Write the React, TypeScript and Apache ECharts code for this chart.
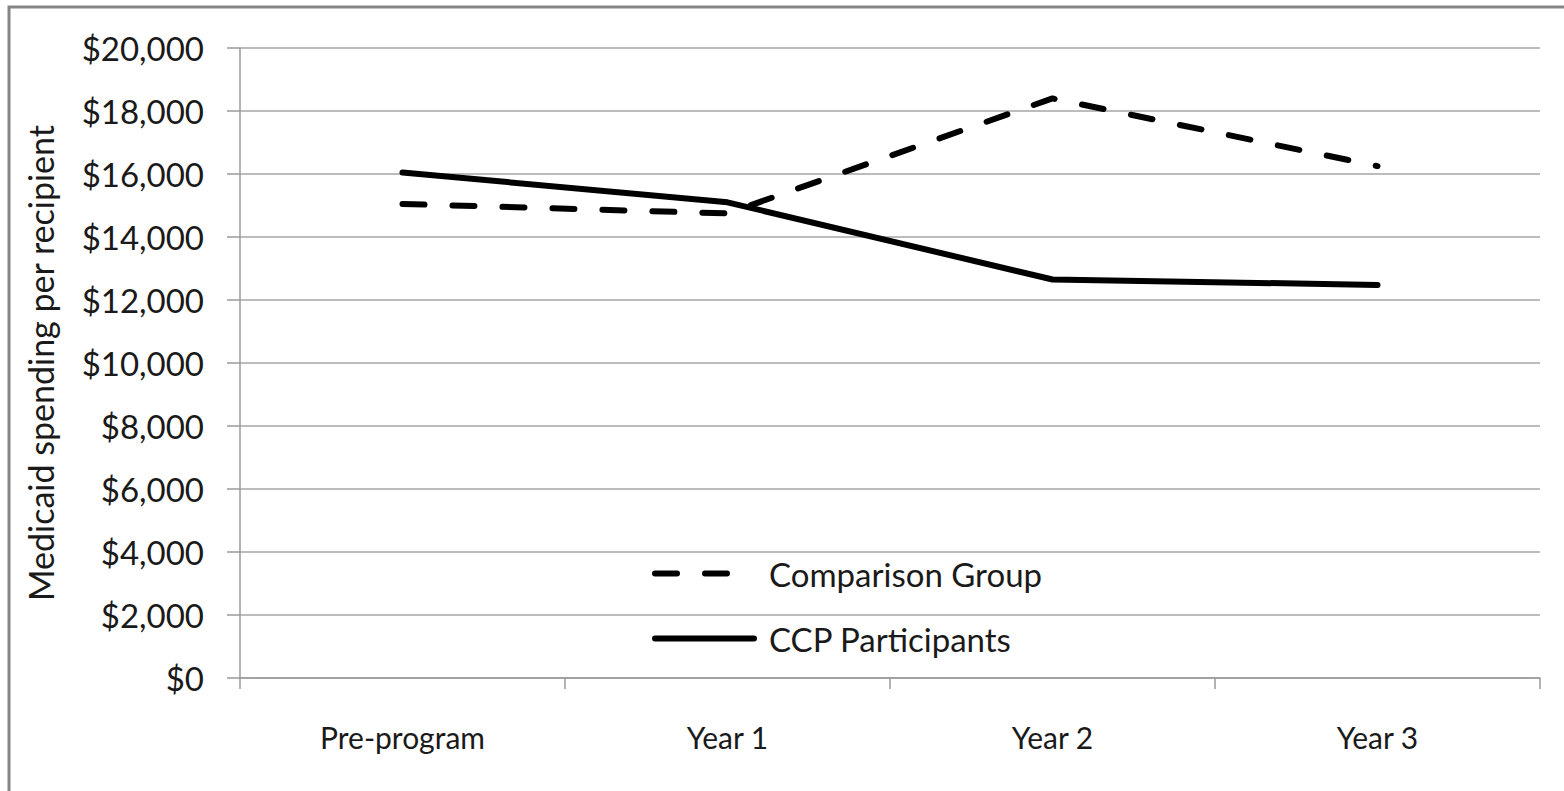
import React, { useEffect, useRef } from "react";
import * as echarts from "echarts";

const categories = ["Pre-program", "Year 1", "Year 2", "Year 3"];
const comparisonGroup = [15050, 14750, 18400, 16250];
const ccpParticipants = [16050, 15100, 12650, 12480];
const seriesNames = ["Comparison Group", "CCP Participants"];
const yAxisTitle = "Medicaid spending per recipient";

const FONT = "Lato, 'Open Sans', sans-serif";
const TEXT = "#1a1a1a";
const DASH = [22, 28];

export default function App() {
  const ref = useRef<HTMLDivElement>(null);
  useEffect(() => {
    document.body.style.margin = "0";
    const chart = echarts.init(ref.current!, null, { renderer: "svg" });
    const legendCommon = {
      left: 647,
      itemWidth: 99,
      itemHeight: 20,
      itemStyle: { opacity: 0 },
      textStyle: { fontSize: 33, color: TEXT, fontFamily: FONT, padding: [0, 0, 0, 10] },
    };
    chart.setOption({
      animation: false,
      backgroundColor: "#ffffff",
      textStyle: { fontFamily: FONT },
      graphic: [
        {
          type: "rect",
          shape: { x: 9, y: 7, width: 1620, height: 900 },
          style: { fill: "none", stroke: "#858585", lineWidth: 3 },
          silent: true,
        },
      ],
      grid: { left: 240, right: 24, top: 48, bottom: 113 },
      legend: [
        {
          ...legendCommon,
          data: [seriesNames[0]],
          top: 552,
          lineStyle: { width: 6, type: DASH, cap: "round", color: "#000" },
        },
        {
          ...legendCommon,
          data: [seriesNames[1]],
          top: 617,
          lineStyle: { width: 6, type: "solid", cap: "round", color: "#000" },
        },
      ],
      xAxis: {
        type: "category",
        data: categories,
        boundaryGap: true,
        axisLine: { lineStyle: { color: "#9a9a9a", width: 1.5 } },
        axisTick: { show: true, length: 11, lineStyle: { color: "#9a9a9a", width: 1.5 } },
        axisLabel: { fontSize: 30, color: TEXT, fontFamily: FONT, margin: 44 },
        splitLine: { show: false },
      },
      yAxis: {
        type: "value",
        min: 0,
        max: 20000,
        interval: 2000,
        name: yAxisTitle,
        nameLocation: "middle",
        nameGap: 183,
        nameRotate: 90,
        nameTextStyle: { fontSize: 34, color: TEXT, fontFamily: FONT },
        axisLine: { show: true, lineStyle: { color: "#9a9a9a", width: 1.5 } },
        axisTick: { show: true, inside: false, length: 13, lineStyle: { color: "#9a9a9a", width: 1.5 } },
        axisLabel: {
          fontSize: 33,
          color: TEXT,
          fontFamily: FONT,
          margin: 36,
          formatter: (v: number) => "$" + v.toLocaleString("en-US"),
        },
        splitLine: { show: true, lineStyle: { color: "#a6a6a6", width: 1.5 } },
      },
      series: [
        {
          name: seriesNames[0],
          type: "line",
          data: comparisonGroup,
          symbol: "none",
          lineStyle: { color: "#000", width: 6, type: DASH, cap: "round" },
          itemStyle: { color: "#000" },
        },
        {
          name: seriesNames[1],
          type: "line",
          data: ccpParticipants,
          symbol: "none",
          lineStyle: { color: "#000", width: 6, type: "solid", cap: "round" },
          itemStyle: { color: "#000" },
        },
      ],
    });
    return () => chart.dispose();
  }, []);
  return <div ref={ref} style={{ position: "absolute", left: 0, top: 0, width: 1564, height: 791 }} />;
}
